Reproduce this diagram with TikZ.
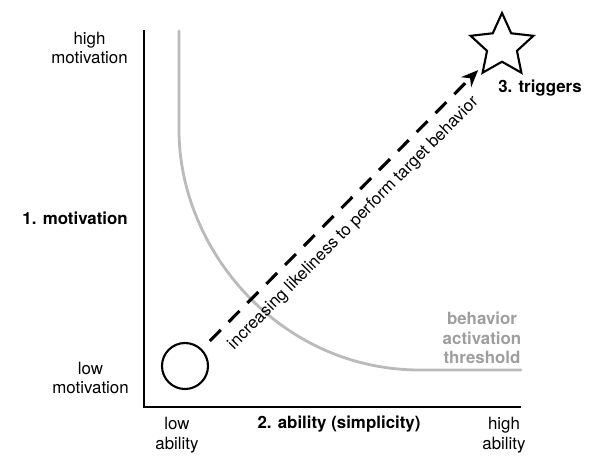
\documentclass[tikz,border=0pt]{standalone}
\usepackage{fontspec}
\setmainfont{TeX Gyre Heros}
\usetikzlibrary{arrows.meta,shapes.geometric,positioning}

\begin{document}
\begin{tikzpicture}[x=0.025cm, y=-0.025cm,
    lbl/.style={font=\fontsize{12}{14}\selectfont, align=center, inner sep=0pt},
    axislbl/.style={lbl, font=\fontsize{12}{14}\selectfont\bfseries},
    axis/.style={line width=1.5pt},
    thresh/.style={line width=2pt, black!27, line cap=round},
    arr/.style={-{Stealth[length=12pt, width=10pt]}, line width=2.2pt, dash pattern=on 11pt off 8pt, shorten <=8pt, shorten >=5pt}
]
\useasboundingbox (0,0) rectangle (600,463);

% axes
\coordinate (ytop) at (144,30);
\coordinate (origin) at (144,407);
\coordinate (xend) at (521,407);
\draw[axis] (ytop) -- (origin) -- (xend);

% threshold curve
\draw[thresh] (179,31) -- (179,130) .. controls (179,250) and (280,370) .. (420,370) -- (521,370);

\node[draw, circle, line width=1.5pt, minimum size=1.15cm, inner sep=0pt] (low) at (185,366) {};
\node[draw, star, star points=5, star point ratio=2.1, line width=1.5pt, minimum size=1.65cm, inner sep=0pt] (goal) at (502,46) {};

\draw[arr] (low) -- node[lbl, sloped, below=7pt, pos=0.49] (likely) {increasing likeliness to perform target behavior} (goal);

% labels
\node[lbl, anchor=east] (himot) at (128,48) {high\\motivation};
\node[axislbl, anchor=east] (mot) at (128,218) {1. motivation};
\node[lbl, anchor=east] (lomot) at (129,378) {low\\motivation};
\node[lbl] (loab) at (177,435) {low\\ability};
\node[axislbl] (abil) at (339,424) {2. ability (simplicity)};
\node[lbl] (hiab) at (504,435) {high\\ability};
\node[axislbl] (trig) at (540,88) {3. triggers};
\node[axislbl, text=black!38] (thrlbl) at (482,338) {behavior\\activation\\threshold};
\end{tikzpicture}
\end{document}
